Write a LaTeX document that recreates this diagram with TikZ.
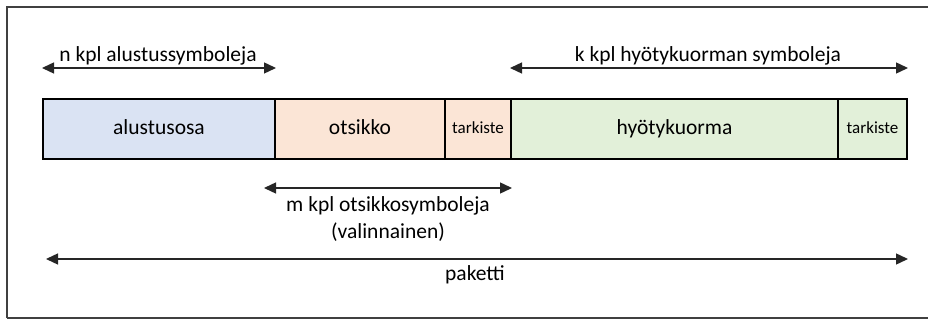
\documentclass[tikz,border=0pt]{standalone}
\usepackage{fontspec}
\setmainfont{Carlito}
\usetikzlibrary{arrows.meta}
\definecolor{preamble}{HTML}{DAE3F3}
\definecolor{header}{HTML}{FBE5D6}
\definecolor{payload}{HTML}{E2F0D9}
\tikzset{
  seg/.style={draw=black, line width=2pt, minimum height=60pt, anchor=north west,
    inner sep=0pt, text height=15pt, text depth=4.5pt, font=\fontsize{21.5}{24}\selectfont},
  small/.style={font=\fontsize{17}{20}\selectfont, text height=12pt, text depth=3.5pt},
  span/.style={draw=black!85, line width=1.4pt, {Triangle[length=12pt,width=11pt]}-{Triangle[length=12pt,width=11pt]}},
  lbl/.style={font=\fontsize{21.5}{24}\selectfont, inner sep=0pt, text height=15pt, text depth=4.5pt}
}
\begin{document}
\begin{tikzpicture}[x=1pt,y=-1pt]
\useasboundingbox (0,0) rectangle (928,320);
% outer frame
\draw[black!75, line width=1.2pt] (7,318) -- (7,7) -- (935,7);
\draw[black!75, line width=1.2pt] (7,318) -- (935,318);
% packet segments
\node[seg, fill=preamble, minimum width=232pt] (alus) at (42,98) {alustusosa};
\node[seg, fill=header, minimum width=170pt] (otsi) at (274,98) {otsikko};
\node[seg, fill=header, minimum width=66pt, small] (tark1) at (444,98) {tarkiste};
\node[seg, fill=payload, minimum width=327pt] (hyot) at (510,98) {hyötykuorma};
\node[seg, fill=payload, minimum width=69pt, small] (tark2) at (837,98) {tarkiste};
% span arrows
\coordinate (nA) at ([yshift=30pt]alus.north west);
\coordinate (nB) at ([yshift=30pt]alus.north east);
\coordinate (kA) at ([yshift=30pt]hyot.north west);
\coordinate (kB) at ([yshift=30pt]tark2.north east);
\coordinate (mA) at ([xshift=-10pt,yshift=-28pt]otsi.south west);
\coordinate (mB) at ([yshift=-28pt]tark1.south east);
\coordinate (pA) at ([xshift=4pt,yshift=-99pt]alus.south west);
\coordinate (pB) at ([yshift=-99pt]tark2.south east);
\draw[span] (nA) -- (nB);
\draw[span] (kA) -- (kB);
\draw[span] (mA) -- (mB);
\draw[span] (pA) -- (pB);
% labels
\node[lbl] (nL) at (158,56) {n kpl alustussymboleja};
\node[lbl] (kL) at (708,56) {k kpl hyötykuorman symboleja};
\node[lbl] (mL) at (388,206) {m kpl otsikkosymboleja};
\node[lbl] (mL2) at (388,233) {(valinnainen)};
\node[lbl] (pL) at (475,275) {paketti};
\end{tikzpicture}
\end{document}
